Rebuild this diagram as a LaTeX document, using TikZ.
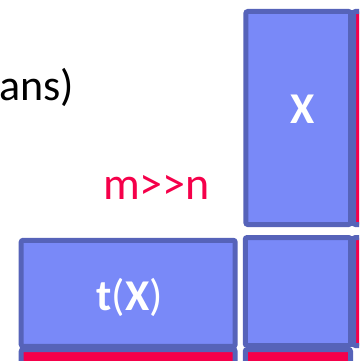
\documentclass[tikz,border=0pt]{standalone}
\usepackage{fontspec}
\setmainfont{Carlito}
\definecolor{boxblue}{HTML}{7989F8}
\definecolor{edgeblue}{HTML}{5663B9}
\definecolor{hotred}{HTML}{F5004A}

\begin{document}
\begin{tikzpicture}[x=1pt,y=-1pt,
  blk/.style={draw=edgeblue,line width=5pt,rounded corners=2pt,inner sep=0pt,outer sep=0pt},
  big/.style={font=\fontsize{44}{52}\selectfont}]
  \clip (0,0) rectangle (359,361);
  % red blocks, cut off by the frame
  \node[blk,fill=hotred,minimum width=106.5pt,minimum height=213pt] (redx) at (406.75,118) {};
  \node[blk,fill=hotred,minimum width=106.5pt,minimum height=108pt] (redsq) at (406.75,291.5) {};
  \node[blk,fill=hotred,minimum width=214pt,minimum height=110pt] (redtx) at (128.2,404.5) {};
  \node[blk,fill=hotred,minimum width=105.3pt,minimum height=110pt] (redlow) at (297.9,404.5) {};
  % blue blocks
  \node[blk,fill=boxblue,minimum width=104.7pt,minimum height=213pt] (X) at (298.2,118) {};
  \node[blk,fill=boxblue,minimum width=105.3pt,minimum height=108pt] (sq) at (297.9,291.5) {};
  \node[blk,fill=boxblue,minimum width=214pt,minimum height=106pt] (tX) at (128.2,293.3) {};
  \node[big,text=white,font=\fontsize{44}{52}\selectfont\bfseries] (xlbl) at (303,109) {X};
  \node[big,text=white] (txlbl) at (129.5,297) {\textbf{t}(\textbf{X})};
  \node[big,anchor=base west,inner sep=0pt] (ans) at (-1,100) {ans)};
  \node[big,anchor=base west,inner sep=0pt,text=hotred,font=\fontsize{46}{54}\selectfont] (mn) at (103,199) {m>\kern0pt>n};
\end{tikzpicture}
\end{document}
